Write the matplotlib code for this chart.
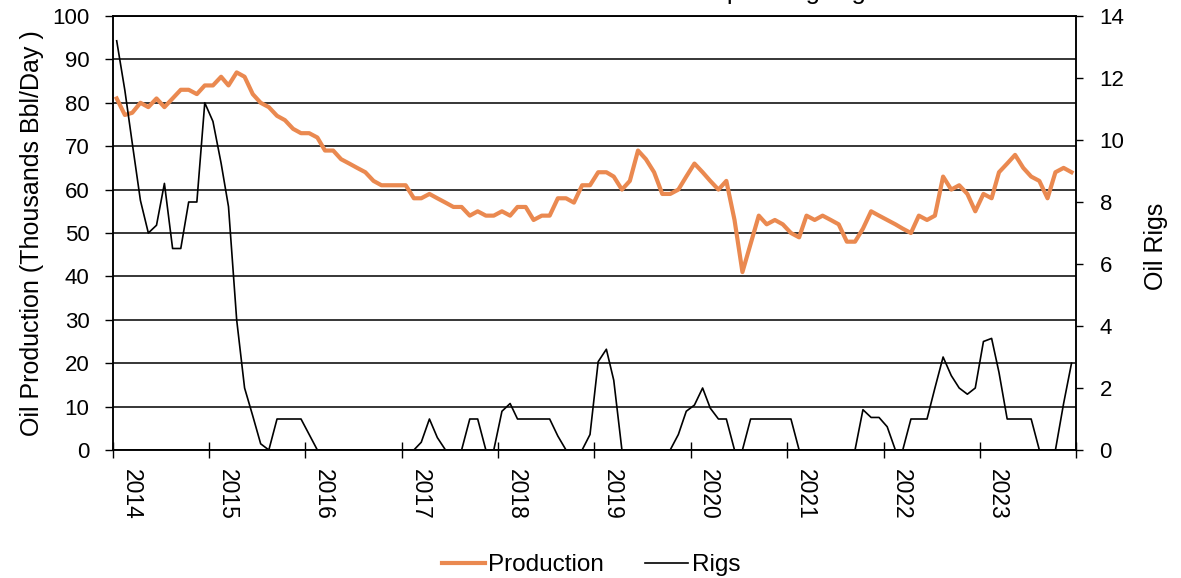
"""
Monthly oil production and active oil rigs, 2014-2023.
"""

import matplotlib
matplotlib.use("Agg")
import matplotlib.pyplot as plt
import pandas as pd
from matplotlib.transforms import ScaledTranslation

plt.rcParams['font.family'] = ['Liberation Sans', 'DejaVu Sans']

# Monthly points, plotted mid-month
months = pd.date_range("2014-01-01", periods=120, freq="MS") + pd.Timedelta(days=14)

# Oil production (thousands bbl/day)
production = [
    81, 77.2, 77.7, 80, 79, 81, 79, 81, 83, 83, 82, 84,        # 2014
    84, 86, 84, 87, 86, 82, 80, 79, 77, 76, 74, 73,            # 2015
    73, 72, 69, 69, 67, 66, 65, 64, 62, 61, 61, 61,            # 2016
    61, 58, 58, 59, 58, 57, 56, 56, 54, 55, 54, 54,            # 2017
    55, 54, 56, 56, 53, 54, 54, 58, 58, 57, 61, 61,            # 2018
    64, 64, 63, 60, 62, 69, 67, 64, 59, 59, 60, 63,            # 2019
    66, 64, 62, 60, 62, 53, 41, 47.5, 54, 52, 53, 52,          # 2020
    50, 49, 54, 53, 54, 53, 52, 48, 48, 51, 55, 54,            # 2021
    53, 52, 51, 50, 54, 53, 54, 63, 60, 61, 59, 55,            # 2022
    59, 58, 64, 66, 68, 65, 63, 62, 58, 64, 65, 64,            # 2023
]

# Active oil rigs
rigs = [
    13.2, 11.6, 9.9, 8.05, 7.0, 7.25, 8.6, 6.5, 6.5, 8.0, 8.0, 11.2,
    10.6, 9.25, 7.85, 4.2, 2.0, 1.1, 0.2, 0, 1, 1, 1, 1,
    0.5, 0, 0, 0, 0, 0, 0, 0, 0, 0, 0, 0,
    0, 0, 0.25, 1, 0.4, 0, 0, 0, 1, 1, 0, 0,
    1.25, 1.5, 1, 1, 1, 1, 1, 0.45, 0, 0, 0, 0.5,
    2.85, 3.25, 2.25, 0, 0, 0, 0, 0, 0, 0, 0.5, 1.25,
    1.45, 2.0, 1.35, 1, 1, 0, 0, 1, 1, 1, 1, 1,
    1, 0, 0, 0, 0, 0, 0, 0, 0, 1.3, 1.05, 1.05,
    0.75, 0, 0, 1, 1, 1, 2.0, 3.0, 2.4, 2.0, 1.8, 2.0,
    3.5, 3.6, 2.5, 1, 1, 1, 1, 0, 0, 0, 1.5, 2.8,
]

years = list(range(2014, 2025))
year_labels = [str(y) for y in years[:-1]] + [""]
prod_ticks = list(range(0, 101, 10))
rig_ticks = list(range(0, 15, 2))

ORANGE = '#EA8950'

fig = plt.figure(figsize=(11.81, 5.78), dpi=100)
ax = fig.add_axes([113 / 1181, 1 - 450 / 578, 963 / 1181, 434 / 578])
ax2 = ax.twinx()

ax.plot(months, production, color=ORANGE, linewidth=3.0, label="Production")
ax2.plot(months, rigs, color='black', linewidth=1.2, label="Rigs")

# Axes limits and ticks
ax.set_xlim(pd.Timestamp("2014-01-01"), pd.Timestamp("2024-01-01"))
ax.set_ylim(0, 100)
ax2.set_ylim(0, 14)
ax.set_yticks(prod_ticks)
ax2.set_yticks(rig_ticks)
ax.set_xticks([pd.Timestamp(f"{y}-01-01") for y in years])
ax.set_xticklabels(year_labels, rotation=270, fontsize=16.5, ha='center')

ax.yaxis.grid(True, color='black', linewidth=1.1)
ax.set_axisbelow(True)

ax.tick_params(axis='y', labelsize=16, direction='out', length=6, width=1, pad=11)
ax.tick_params(axis='x', direction='inout', length=12, width=1, pad=8)
ax2.tick_params(axis='y', labelsize=16, direction='out', length=5, width=1, pad=12)

# Year labels sit just right of their tick (after tick_params, which resets transforms)
for lbl in ax.get_xticklabels():
    lbl.set_transform(lbl.get_transform() + ScaledTranslation(0.18, 0, fig.dpi_scale_trans))

for a in (ax, ax2):
    for sp in a.spines.values():
        sp.set_color('black')
        sp.set_linewidth(1.1)

ax.set_ylabel("Oil Production (Thousands Bbl/Day )", fontsize=18)
ax.yaxis.set_label_coords(-0.072, 0.5)
ax2.set_ylabel("Oil Rigs", fontsize=18)
ax2.yaxis.set_label_coords(1.071, 0.47)

# Title sits mostly above the canvas, only descenders show
fig.text(488 / 1181, 1 + 1.5 / 578, "Oil Production and Operating Rigs",
         fontsize=18.5, ha='left', va='baseline')

handles = ax.get_lines() + ax2.get_lines()
fig.legend(handles, [h.get_label() for h in handles], loc='center',
           bbox_to_anchor=(591 / 1181, 1 - 565 / 578), ncol=2, frameon=False,
           fontsize=17.5, handlelength=1.75, handletextpad=0.15, columnspacing=1.7)

fig.savefig("out.png", dpi=100)
